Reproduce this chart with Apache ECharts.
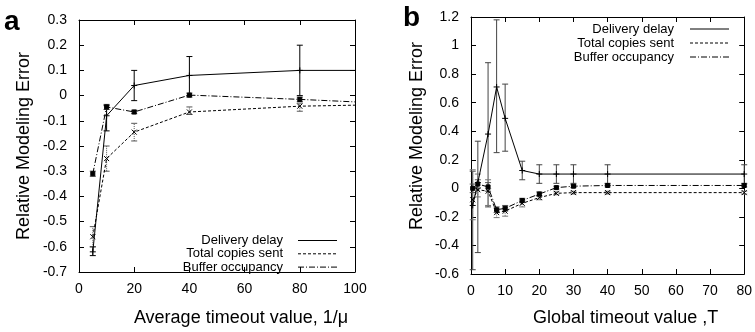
<!DOCTYPE html>
<html><head><meta charset="utf-8">
<script src="https://cdn.jsdelivr.net/npm/echarts@6/dist/echarts.min.js"></script>
<style>html,body{margin:0;padding:0;background:#fff}#c{width:755px;height:332px}</style>
</head><body><div id="c"></div>
<script>
// ---------- Panel a data ----------
var aX = [5, 10, 20, 40, 80, 100];
var aDelay = [-0.62, -0.08, 0.04, 0.08, 0.10, 0.10];
var aDelayLo = [-0.635, -0.14, -0.02, 0.0, 0.0, null];
var aDelayHi = [-0.60, -0.04, 0.10, 0.155, 0.20, null];
var aCopies = [-0.56, -0.25, -0.145, -0.065, -0.042, -0.038];
var aCopiesLo = [-0.60, -0.30, -0.18, -0.075, -0.062, null];
var aCopiesHi = [-0.52, -0.20, -0.11, -0.045, -0.03, null];
var aBuffer = [-0.31, -0.045, -0.065, 0.002, -0.015, -0.025];
var aBufferLo = [-0.32, -0.055, -0.072, -0.006, -0.024, null];
var aBufferHi = [-0.30, -0.035, -0.058, 0.01, -0.006, null];
// ---------- Panel b data ----------
var bX = [0.5, 2, 5, 7.5, 10, 15, 20, 25, 30, 40, 80];
var bDelay = [-0.12, 0.04, 0.38, 0.71, 0.49, 0.125, 0.10, 0.10, 0.10, 0.10, 0.10];
var bDelayLo = [-0.57, -0.45, -0.13, 0.25, 0.26, 0.06, 0.035, 0.035, 0.035, 0.035, 0.035];
var bDelayHi = [0.12, 0.33, 0.88, 1.18, 0.73, 0.19, 0.165, 0.165, 0.165, 0.165, 0.165];
var bCopies = [-0.08, -0.01, -0.02, -0.17, -0.16, -0.105, -0.065, -0.035, -0.03, -0.03, -0.03];
var bCopiesLo = [-0.22, -0.06, -0.12, -0.205, -0.195, -0.13, -0.08, -0.045, -0.04, -0.04, -0.04];
var bCopiesHi = [0.13, 0.10, 0.06, -0.14, -0.13, -0.08, -0.05, -0.025, -0.02, -0.02, -0.02];
var bBuffer = [0.0, 0.03, 0.01, -0.15, -0.14, -0.085, -0.04, 0.005, 0.015, 0.02, 0.02];
var bBufferLo = [-0.03, 0.0, -0.02, -0.17, -0.16, -0.10, -0.055, -0.005, 0.005, 0.01, 0.01];
var bBufferHi = [0.03, 0.06, 0.04, -0.13, -0.12, -0.07, -0.025, 0.015, 0.025, 0.03, 0.03];
// ---------- axes / labels ----------
var aXTicks = {min: 0, max: 100, interval: 20};
var aYTicks = {min: -0.7, max: 0.3, interval: 0.1};
var bXTicks = {min: 0, max: 80, interval: 10};
var bYTicks = {min: -0.6, max: 1.2, interval: 0.2};
var seriesNames = ['Delivery delay', 'Total copies sent', 'Buffer occupancy'];
var aXName = 'Average timeout value, 1/\u03bc';
var bXName = 'Global timeout value ,T';
var yName = 'Relative Modeling Error';

var FONT = 'Liberation Sans';
var PLUS = 'path://M5,0L5,10M0,5L10,5';
var CROSS = 'path://M0,0L10,10M10,0L0,10';
var DASH = [3, 2];
var DASHDOT = [6, 2, 1, 2];

function pairs(xs, ys) { return xs.map(function (x, i) { return [x, ys[i]]; }); }
function errData(xs, lo, hi) {
  var out = [];
  xs.forEach(function (x, i) { if (lo[i] != null && hi[i] != null) out.push([x, lo[i], hi[i]]); });
  return out;
}
function errRender(color, dash) {
  return function (params, api) {
    var x = api.value(0), p1 = api.coord([x, api.value(1)]), p2 = api.coord([x, api.value(2)]);
    var w = 3, st = {stroke: color, lineWidth: 1, lineDash: dash || null};
    return {type: 'group', children: [
      {type: 'line', shape: {x1: p1[0], y1: p1[1], x2: p2[0], y2: p2[1]}, style: st},
      {type: 'line', shape: {x1: p1[0] - w, y1: p1[1], x2: p1[0] + w, y2: p1[1]}, style: {stroke: color, lineWidth: 1}},
      {type: 'line', shape: {x1: p2[0] - w, y1: p2[1], x2: p2[0] + w, y2: p2[1]}, style: {stroke: color, lineWidth: 1}}
    ]};
  };
}
function errSeries(xi, yi, xs, lo, hi, color, dash) {
  return {type: 'custom', xAxisIndex: xi, yAxisIndex: yi, renderItem: errRender(color, dash),
    data: errData(xs, lo, hi), encode: {x: 0, y: [1, 2]}, silent: true, z: 1};
}
function lineSeries(name, xi, yi, xs, ys, dash, sym, size, hideAt) {
  return {type: 'line', name: name, xAxisIndex: xi, yAxisIndex: yi, data: pairs(xs, ys),
    lineStyle: {color: '#000', width: 1, type: dash},
    symbol: function (v) { return (hideAt != null && v[0] === hideAt) ? 'none' : sym; },
    symbolSize: size || 5,
    itemStyle: {color: '#000', borderColor: '#000', borderWidth: 1}, showSymbol: true, silent: true, z: 3};
}
function xAxisDef(grid, t, name, gap, pad) {
  return [{type: 'value', gridIndex: grid, min: t.min, max: t.max, interval: t.interval, position: 'bottom',
    axisLine: {onZero: false, lineStyle: {color: '#000', width: 1}},
    axisTick: {inside: true, length: 5, lineStyle: {color: '#000'}},
    axisLabel: {color: '#000', fontFamily: FONT, fontSize: 14, margin: 10},
    splitLine: {show: false},
    name: name, nameLocation: 'middle', nameGap: gap,
    nameTextStyle: {color: '#000', fontFamily: FONT, fontSize: 18, padding: pad}},
   {type: 'value', gridIndex: grid, min: t.min, max: t.max, interval: t.interval, position: 'top',
    axisLine: {onZero: false, lineStyle: {color: '#000', width: 1}},
    axisTick: {inside: true, length: 5, lineStyle: {color: '#000'}},
    axisLabel: {show: false}, splitLine: {show: false}}];
}
function yAxisDef(grid, t, gap, pad) {
  return [{type: 'value', gridIndex: grid, min: t.min, max: t.max, interval: t.interval, position: 'left',
    axisLine: {onZero: false, lineStyle: {color: '#000', width: 1}},
    axisTick: {inside: true, length: 5, lineStyle: {color: '#000'}},
    axisLabel: {color: '#000', fontFamily: FONT, fontSize: 14, margin: 12},
    splitLine: {show: false},
    name: yName, nameLocation: 'middle', nameGap: gap,
    nameTextStyle: {color: '#000', fontFamily: FONT, fontSize: 18, padding: pad}},
   {type: 'value', gridIndex: grid, min: t.min, max: t.max, interval: t.interval, position: 'right',
    axisLine: {onZero: false, lineStyle: {color: '#000', width: 1}},
    axisTick: {inside: true, length: 5, lineStyle: {color: '#000'}},
    axisLabel: {show: false}, splitLine: {show: false}}];
}
function legendGraphics(textRight, lineX1, lineX2, y0, dy) {
  var dashes = [null, DASH, DASHDOT], g = [];
  seriesNames.forEach(function (n, i) {
    var y = y0 + i * dy;
    g.push({type: 'text', x: textRight, y: y, style: {text: n, fill: '#000', font: '13px "' + FONT + '"', align: 'right', verticalAlign: 'middle'}});
    g.push({type: 'line', shape: {x1: lineX1, y1: y, x2: lineX2, y2: y}, style: {stroke: '#000', lineWidth: 1, lineDash: dashes[i]}});
  });
  return g;
}

var chart = echarts.init(document.getElementById('c'), null, {renderer: 'canvas'});
chart.setOption({
  animation: false,
  backgroundColor: '#fff',
  grid: [
    {left: 79, right: 400, top: 20, bottom: 57},
    {left: 471, right: 8, top: 17, bottom: 56}
  ],
  xAxis: xAxisDef(0, aXTicks, aXName, 37, [0, 0, 0, 48]).concat(xAxisDef(1, bXTicks, bXName, 35, [0, 0, 0, 36])),
  yAxis: yAxisDef(0, aYTicks, 46, [0, 0, 0, 0]).concat(yAxisDef(1, bYTicks, 45, [0, 0, 0, 19])),
  series: [
    errSeries(0, 0, aX, aDelayLo, aDelayHi, '#000'),
    errSeries(0, 0, aX, aCopiesLo, aCopiesHi, '#555', [1, 1]),
    errSeries(0, 0, aX, aBufferLo, aBufferHi, '#333'),
    lineSeries(seriesNames[0], 0, 0, aX, aDelay, 'solid', PLUS, 6, 100),
    lineSeries(seriesNames[1], 0, 0, aX, aCopies, DASH, CROSS, 5, 100),
    lineSeries(seriesNames[2], 0, 0, aX, aBuffer, DASHDOT, 'rect', 4, 100),
    errSeries(2, 2, bX, bDelayLo, bDelayHi, '#444'),
    errSeries(2, 2, bX, bCopiesLo, bCopiesHi, '#777', [1, 1]),
    errSeries(2, 2, bX, bBufferLo, bBufferHi, '#555'),
    lineSeries(seriesNames[0], 2, 2, bX, bDelay, 'solid', PLUS, 6),
    lineSeries(seriesNames[1], 2, 2, bX, bCopies, DASH, CROSS, 5),
    lineSeries(seriesNames[2], 2, 2, bX, bBuffer, DASHDOT, 'rect', 4)
  ],
  graphic: [
    {type: 'text', x: 4, y: 8, style: {text: 'a', fill: '#000', font: 'bold 28px "' + FONT + '"'}},
    {type: 'text', x: 403, y: 4, style: {text: 'b', fill: '#000', font: 'bold 28px "' + FONT + '"'}}
  ].concat(legendGraphics(283, 298, 337, 240.5, 13.3)).concat(legendGraphics(674, 690, 729, 29, 14))
});
</script>
</body></html>
